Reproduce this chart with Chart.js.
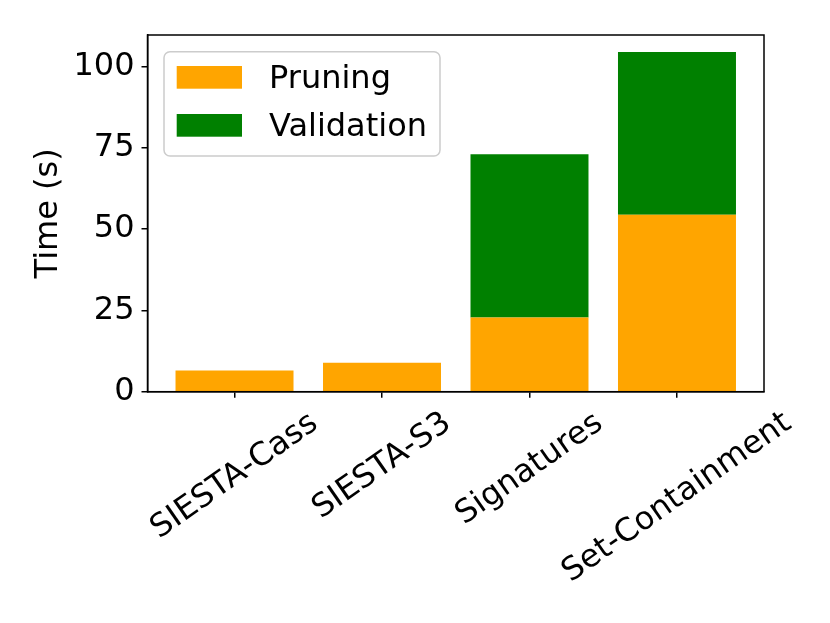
<!DOCTYPE html>
<html>
<head>
<meta charset="utf-8">
<script src="https://cdn.jsdelivr.net/npm/chart.js@4"></script>
<style>
  html, body { margin: 0; padding: 0; background: #fff; }
  #wrap { width: 830px; height: 623px; }
</style>
</head>
<body>
<div id="wrap"><canvas id="timeChart"></canvas></div>
<script>
const categories = ['SIESTA-Cass', 'SIESTA-S3', 'Signatures', 'Set-Containment'];
const pruning = [6.5, 8.9, 22.8, 54.4];
const validation = [0, 0, 50.2, 50.1];
const yTicks = [0, 25, 50, 75, 100];

const FONT = 'DejaVu Sans';
const FSIZE = 32;
const ctx = document.getElementById('timeChart');

// legend, frame and rotated x labels drawn by hand (matplotlib look)
const extras = {
    id: 'extras',
    afterDraw(chart) {
        const c = chart.ctx;
        const area = chart.chartArea;
        c.save();

        // full frame
        c.strokeStyle = '#000';
        c.lineWidth = 1.5;
        c.strokeRect(area.left, area.top, area.right - area.left, area.bottom - area.top);

        // x labels, rotated 35deg, centred under each tick
        const xs = chart.scales.x;
        const ang = 35 * Math.PI / 180;
        c.font = FSIZE + 'px "' + FONT + '"';
        c.fillStyle = '#000';
        c.textAlign = 'center';
        c.textBaseline = 'middle';
        categories.forEach(function (name, i) {
            const x = xs.getPixelForValue(i);
            const w = c.measureText(name).width;
            const h = FSIZE * 1.17;
            const H = w * Math.sin(ang) + h * Math.cos(ang);
            const cy = area.bottom + 13 + H / 2;
            c.save();
            c.translate(x, cy);
            c.rotate(-ang);
            c.fillText(name, 0, 0);
            c.restore();
        });

        // legend box
        const lx = area.left + 16.5, ly = area.top + 16.7;
        const lw = 276, lh = 104.3;
        c.beginPath();
        c.roundRect(lx, ly, lw, lh, 6);
        c.fillStyle = 'rgba(255,255,255,0.8)';
        c.fill();
        c.strokeStyle = '#cccccc';
        c.lineWidth = 1.5;
        c.stroke();

        c.textAlign = 'left';
        chart.data.datasets.forEach(function (ds, i) {
            const sy = ly + 14.3 + i * 48;
            c.fillStyle = ds.backgroundColor;
            c.fillRect(lx + 12.7, sy, 65.3, 22.7);
            c.fillStyle = '#000';
            c.fillText(ds.label, lx + 105, sy + 14);
        });
        c.restore();
    }
};

new Chart(ctx, {
    type: 'bar',
    data: {
        datasets: [{
            label: 'Pruning',
            data: pruning.map((v, i) => ({ x: i, y: v })),
            backgroundColor: '#FFA500',
            borderWidth: 0,
            barPercentage: 0.8,
            categoryPercentage: 1.0
        }, {
            label: 'Validation',
            data: validation.map((v, i) => ({ x: i, y: v })),
            backgroundColor: '#008000',
            borderWidth: 0,
            barPercentage: 0.8,
            categoryPercentage: 1.0
        }]
    },
    options: {
        responsive: true,
        maintainAspectRatio: false,
        animation: false,
        layout: { padding: { left: 24, top: 35, right: 66, bottom: 0 } },
        plugins: {
            legend: { display: false },
            tooltip: { enabled: false }
        },
        scales: {
            x: {
                type: 'linear',
                stacked: true,
                offset: false,
                min: -0.59,
                max: 3.59,
                afterBuildTicks: (scale) => { scale.ticks = categories.map((c, i) => ({ value: i })); },
                afterFit: (scale) => { scale.height = 231.3; },
                ticks: { display: false },
                grid: {
                    offset: false,
                    drawOnChartArea: false,
                    drawTicks: true,
                    tickLength: 6,
                    color: '#000',
                    lineWidth: 1.5
                },
                border: { display: true, color: '#000', width: 1.5 }
            },
            y: {
                stacked: true,
                min: 0,
                max: 109.7,
                afterBuildTicks: (scale) => { scale.ticks = yTicks.map(v => ({ value: v })); },
                afterFit: (scale) => { scale.width = 123.5; },
                ticks: {
                    color: '#000',
                    padding: 7,
                    font: { family: FONT, size: FSIZE }
                },
                grid: {
                    drawOnChartArea: false,
                    drawTicks: true,
                    tickLength: 6,
                    color: '#000',
                    lineWidth: 1.5
                },
                border: { display: true, color: '#000', width: 1.5 },
                title: {
                    display: true,
                    text: 'Time (s)',
                    color: '#000',
                    padding: 5,
                    font: { family: FONT, size: FSIZE }
                }
            }
        }
    },
    plugins: [extras]
});
</script>
</body>
</html>
